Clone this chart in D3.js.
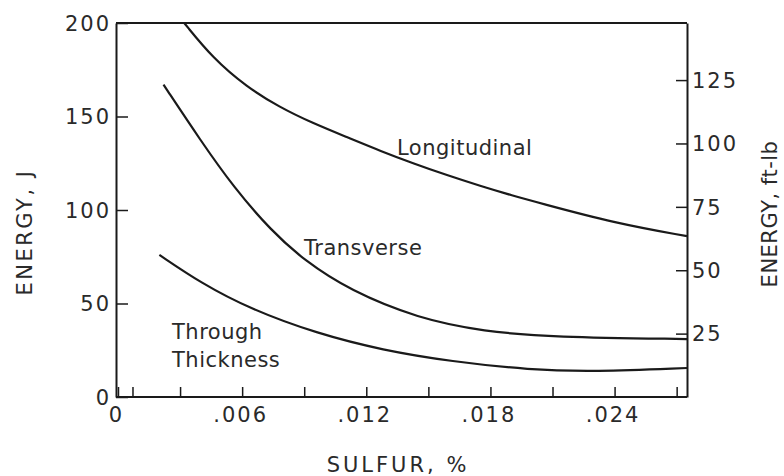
<!DOCTYPE html>
<html><head><meta charset="utf-8">
<script src="https://cdn.jsdelivr.net/npm/d3@7"></script>
<style>
body{margin:0;background:#fff;}
svg text{font-family:"DejaVu Sans",sans-serif;fill:#2a2a2a;}
</style></head>
<body><svg id="c" width="784" height="476"></svg>
<script>
const longX = [0.0032, 0.0046, 0.0062, 0.0078, 0.0094, 0.0111, 0.0127, 0.0143, 0.0159, 0.0175, 0.0191, 0.0203, 0.0240, 0.0275];
const longY = [200, 181, 166, 155, 146.5, 138.8, 131.5, 124.8, 118.6, 112.9, 107.6, 104, 93, 86];
const transX = [0.0022, 0.0040, 0.0056, 0.0074, 0.0090, 0.0112, 0.0145, 0.0177, 0.0210, 0.0275];
const transY = [167, 137, 112, 89, 73, 57, 42, 35, 32, 31];
const thruX = [0.0020, 0.0040, 0.0064, 0.0096, 0.0128, 0.0161, 0.0199, 0.0230, 0.0275];
const thruY = [76, 61, 47, 34, 25, 19, 14.5, 13.5, 15.5];
const xTicks = [0, 0.0007, 0.003, 0.006, 0.009, 0.012, 0.015, 0.018, 0.021, 0.024, 0.027];
const xLabeled = [0, 0.006, 0.012, 0.018, 0.024];
const yTicks = [0, 50, 100, 150, 200];
const ftTicks = [25, 50, 75, 100, 125];
const J_PER_FTLB = 1.3558;

const svg = d3.select("#c");
const L = 116, R = 687, T = 23, B = 397;
const x = d3.scaleLinear().domain([0, 0.0275]).range([L+2, R]);
const y = d3.scaleLinear().domain([0, 200]).range([B, T]);
const y2 = d3.scaleLinear().domain([0, 200 / J_PER_FTLB]).range([B, T]);
const ink = "#1a1a1a";
const tink = "#2a2a2a";

// frame top
svg.append("line").attr("x1", L).attr("x2", R).attr("y1", T).attr("y2", T)
  .attr("stroke", ink).attr("stroke-width", 2);

const fmtX = d => d === 0 ? "0" : d3.format(".3f")(d).replace(/^0/, "");
const gx = svg.append("g").attr("transform", `translate(0,${B})`)
  .call(d3.axisBottom(x).tickValues(xTicks).tickSizeInner(-10).tickSizeOuter(0).tickPadding(9)
    .tickFormat(d => xLabeled.some(v => Math.abs(v - d) < 1e-9) ? fmtX(d) : ""));
gx.select(".domain").attr("d", `M${L},0H${R}`);
const gy = svg.append("g").attr("transform", `translate(${L},0)`)
  .call(d3.axisLeft(y).tickValues(yTicks).tickSizeInner(-12).tickSizeOuter(0).tickPadding(5));
const gy2 = svg.append("g").attr("transform", `translate(${R},0)`)
  .call(d3.axisRight(y2).tickValues(ftTicks).tickSizeInner(-11).tickSizeOuter(0).tickPadding(5));

[gx, gy, gy2].forEach(g => {
  g.select(".domain").attr("stroke", ink).attr("stroke-width", 2);
  g.selectAll(".tick line").attr("stroke", ink).attr("stroke-width", 1.5);
  g.selectAll(".tick text").attr("font-size", 21).attr("fill", tink)
    .attr("letter-spacing", "2px").style("font-family", "DejaVu Sans");
});
gx.selectAll(".tick text").attr("dy", "0.75em").attr("dx", "-2px");
gy.selectAll(".tick text").attr("dy", "0.35em");
gy2.selectAll(".tick text").attr("dy", "0.35em");

// curves
const line = d3.line().x(d => x(d[0])).y(d => y(d[1])).curve(d3.curveBasis);
[[longX, longY], [transX, transY], [thruX, thruY]].forEach(([xs, ys]) => {
  svg.append("path").datum(xs.map((v, i) => [v, ys[i]]))
    .attr("d", line).attr("fill", "none").attr("stroke", ink).attr("stroke-width", 2.2);
});

// labels
const lab = (t, px, py, anchor, size, sp) => svg.append("text").attr("x", px).attr("y", py)
  .attr("text-anchor", anchor || "start").attr("font-size", size || 21)
  .attr("letter-spacing", (sp == null ? 0.5 : sp) + "px").text(t);
lab("Longitudinal", 397, 155);
lab("Transverse", 304, 255);
lab("Through", 172, 339);
lab("Thickness", 172, 367);
lab("SULFUR, %", 398, 472, "middle", 21, 3);

svg.append("text").attr("transform", "translate(32,232) rotate(-90)")
  .attr("text-anchor", "middle").attr("font-size", 21).attr("letter-spacing", "2.5px")
  .text("ENERGY, J");
svg.append("text").attr("transform", "translate(777,214) rotate(-90)")
  .attr("text-anchor", "middle").attr("font-size", 21).attr("letter-spacing", "0.5px")
  .text("ENERGY, ft-lb");
</script></body></html>
